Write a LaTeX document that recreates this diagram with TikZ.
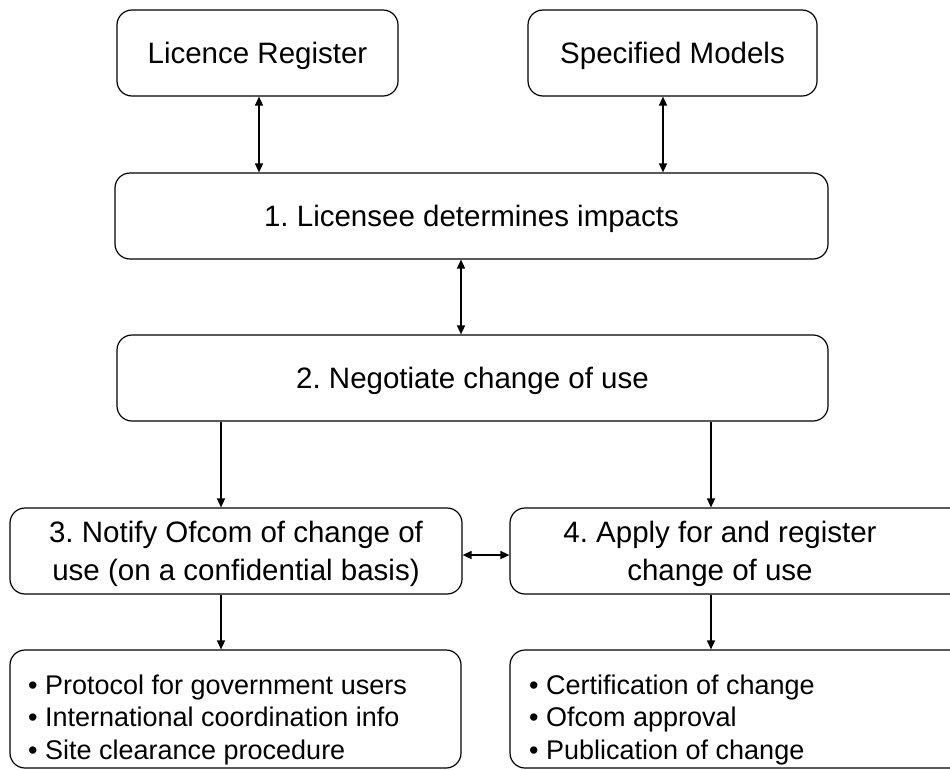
\documentclass[tikz,border=0pt]{standalone}
\usepackage{fontspec}
\setmainfont{Liberation Sans}
\usetikzlibrary{arrows.meta}
\begin{document}
\frenchspacing
\begin{tikzpicture}[x=1pt,y=-1pt,
 box/.style={draw, rounded corners=15pt, line width=1.2pt, inner sep=0pt, align=center, text depth=0pt, font=\fontsize{29.5}{37.5}\selectfont},
 btxt/.style={inner sep=0pt, align=left, font=\fontsize{27}{32.5}\selectfont},
 mtxt/.style={inner sep=0pt, align=center, text depth=0pt, font=\fontsize{29.5}{37.5}\selectfont},
 link/.style={line width=1.5pt, -{Triangle[length=9pt,width=8pt]}},
 dlink/.style={line width=1.5pt, {Triangle[length=9pt,width=8pt]}-{Triangle[length=9pt,width=8pt]}}]
\clip (0,0) rectangle (950,769);
\fill[white] (0,0) rectangle (950,769);
\node[box, minimum width=281pt, minimum height=86pt] (LR) at (257.5,53) {Licence Register};
\node[box, minimum width=289pt, minimum height=86pt] (SM) at (672.5,53) {Specified Models};
\node[box, minimum width=713pt, minimum height=86pt] (B1) at (471.5,216) {1. Licensee determines impacts};
\node[box, minimum width=711pt, minimum height=86pt] (B2) at (472.5,378) {2. Negotiate change of use};
\node[box, minimum width=452pt, minimum height=86pt] (B3) at (236,551) {3. Notify Ofcom of change of\\use (on a confidential basis)};
\node[box, minimum width=455pt, minimum height=86pt] (B4) at (737.5,551) {};
\node[mtxt] (B4t) at (720,551) {4. Apply for and register\\change of use};
\node[box, minimum width=451pt, minimum height=118pt] (B5) at (235.5,709) {};
\node[btxt, anchor=west] (B5t) at (28,720) {• Protocol for government users\\• International coordination info\\• Site clearance procedure};
\node[box, minimum width=455pt, minimum height=118pt] (B6) at (737.5,709) {};
\node[btxt, anchor=west] (B6t) at (529,720) {• Certification of change\\• Ofcom approval\\• Publication of change};
\coordinate (xa) at (259,0);
\coordinate (xb) at (663,0);
\coordinate (xc) at (461,0);
\coordinate (xd) at (221,0);
\coordinate (xe) at (711,0);
\coordinate (ya) at (0,555);
\draw[dlink] (LR.south -| xa) -- (B1.north -| xa);
\draw[dlink] (SM.south -| xb) -- (B1.north -| xb);
\draw[dlink] (B1.south -| xc) -- (B2.north -| xc);
\draw[link] (B2.south -| xd) -- (B3.north -| xd);
\draw[link] (B2.south -| xe) -- (B4.north -| xe);
\draw[dlink] (B3.east |- ya) -- (B4.west |- ya);
\draw[link] (B3.south -| xd) -- (B5.north -| xd);
\draw[link] (B4.south -| xe) -- (B6.north -| xe);
\end{tikzpicture}
\end{document}
